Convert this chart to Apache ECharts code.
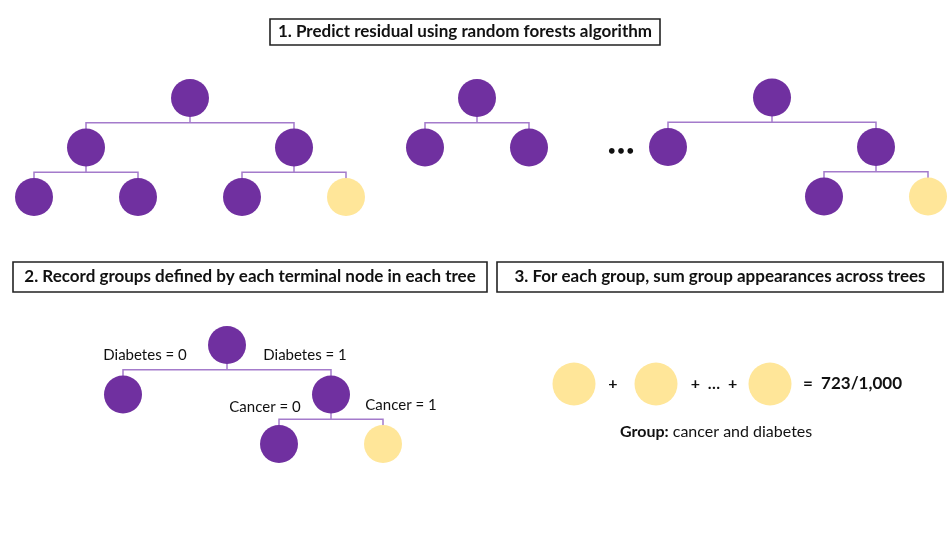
<!DOCTYPE html>
<html>
<head>
<meta charset="utf-8">
<script src="https://cdn.jsdelivr.net/npm/echarts@6/dist/echarts.min.js"></script>
<style>html,body{margin:0;padding:0;background:#fff}#c{width:951px;height:536px}</style>
</head>
<body>
<div id="c"></div>
<script>
// ---------- data ----------
const stepTitles = [
  '1. Predict residual using random forests algorithm',
  '2. Record groups defined by each terminal node in each tree',
  '3. For each group, sum group appearances across trees'
];
// tree nodes: [path from root (L/R), node kind]
const tree1 = [['', 'split'], ['L', 'split'], ['R', 'split'], ['LL', 'leaf'], ['LR', 'leaf'], ['RL', 'leaf'], ['RR', 'group']];
const tree2 = [['', 'split'], ['L', 'leaf'], ['R', 'leaf']];
const treeLast = [['', 'split'], ['L', 'leaf'], ['R', 'split'], ['RL', 'leaf'], ['RR', 'group']];
const exampleTree = [['', 'split'], ['L', 'leaf'], ['R', 'split'], ['RL', 'leaf'], ['RR', 'group']];
const splitLabels = ['Diabetes = 0', 'Diabetes = 1', 'Cancer = 0', 'Cancer = 1'];
const groupTerms = ['tree 1', 'tree 2', 'tree 1,000'];
const groupCount = 723;
const treeCount = 1000;
const groupName = 'cancer and diabetes';

// ---------- layout ----------
const FONT = 'Lato, "Open Sans", sans-serif';
const PURPLE = '#7030A0', YELLOW = '#FFE699', EDGE = '#A47BCB';
const UNIT = 52, STEP = 49.5;
const treeAnchors = [
  { nodes: tree1, x: 190, y: 98 },
  { nodes: tree2, x: 477, y: 98 },
  { nodes: treeLast, x: 772, y: 97.5 },
  { nodes: exampleTree, x: 227, y: 345 }
];
function layoutTree(t) {
  const depth = Math.max(...t.nodes.map(n => n[0].length));
  const pos = {};
  t.nodes.forEach(([p, kind]) => {
    let x = t.x;
    for (let i = 0; i < p.length; i++) x += (p[i] === 'L' ? -1 : 1) * UNIT * Math.pow(2, depth - i - 1);
    pos[p] = { x, y: t.y + p.length * STEP, kind };
  });
  return pos;
}
const nodePts = { split: [], leaf: [], group: [] };
const edgeLines = [];
treeAnchors.forEach(t => {
  const pos = layoutTree(t);
  Object.keys(pos).forEach(p => {
    const n = pos[p];
    nodePts[n.kind].push([n.x, n.y]);
    const l = pos[p + 'L'], r = pos[p + 'R'];
    if (l && r) {
      const by = n.y + STEP / 2;
      edgeLines.push({ coords: [[n.x, n.y], [n.x, by]] });
      edgeLines.push({ coords: [[l.x, l.y], [l.x, by], [r.x, by], [r.x, r.y]] });
    }
  });
});
const sumX = [574, 656, 770], sumY = 384;
const sumPts = groupTerms.map((g, i) => [sumX[i], sumY]);

function box(x, y, w, h, text) {
  return {
    type: 'group', children: [
      { type: 'rect', shape: { x, y, width: w, height: h }, style: { fill: '#fff', stroke: '#222', lineWidth: 1.6 }, z: 1 },
      { type: 'text', x: x + w / 2, y: y + h / 2, z: 2,
        style: { text, font: 'bold 17px ' + FONT, fill: '#111', textAlign: 'center', textVerticalAlign: 'middle' } }
    ]
  };
}
function label(x, y, text, weight, size, align) {
  return { type: 'text', x, y, z: 5,
    style: { text, font: (weight || 'normal') + ' ' + (size || 15) + 'px ' + FONT, fill: '#111', textAlign: align || 'center', textVerticalAlign: 'middle' } };
}

const chart = echarts.init(document.getElementById('c'));
chart.setOption({
  animation: false,
  backgroundColor: '#fff',
  grid: { left: 0, right: 0, top: 0, bottom: 0 },
  xAxis: { type: 'value', min: 0, max: 951, show: false },
  yAxis: { type: 'value', min: 0, max: 536, inverse: true, show: false },
  series: [
    { type: 'lines', coordinateSystem: 'cartesian2d', polyline: true, z: 1,
      lineStyle: { color: EDGE, width: 1.5, opacity: 1 }, data: edgeLines },
    { type: 'scatter', name: 'split', symbolSize: 38, z: 3, itemStyle: { color: PURPLE, opacity: 1 }, data: nodePts.split.concat(nodePts.leaf) },
    { type: 'scatter', name: 'group', symbolSize: 38, z: 3, itemStyle: { color: YELLOW, opacity: 1 }, data: nodePts.group },
    { type: 'scatter', name: 'sum', symbolSize: 43, z: 3, itemStyle: { color: YELLOW, opacity: 1 }, data: sumPts }
  ],
  graphic: [
    box(270, 19, 390, 26, stepTitles[0]),
    box(13, 262, 474, 30, stepTitles[1]),
    box(497, 262, 446, 30, stepTitles[2]),
    label(621, 151, '•\u2009•\u2009•', 'bold', 13),
    label(145, 355, splitLabels[0]),
    label(305, 355, splitLabels[1]),
    label(265, 407, splitLabels[2]),
    label(401, 405, splitLabels[3]),
    label(613, 384, '+', 'bold', 16),
    label(714, 384, '+  …  +', 'bold', 16),
    label(803, 384, '=  ' + groupCount + '/' + treeCount.toLocaleString('en-US'), 'bold', 17, 'left'),
    { type: 'text', x: 620, y: 432, z: 5, style: {
        text: '{b|Group:} ' + groupName, font: '16px ' + FONT, fill: '#111', textVerticalAlign: 'middle',
        rich: { b: { fontWeight: 'bold', fontSize: 16, fontFamily: FONT } } } }
  ]
});
</script>
</body>
</html>
